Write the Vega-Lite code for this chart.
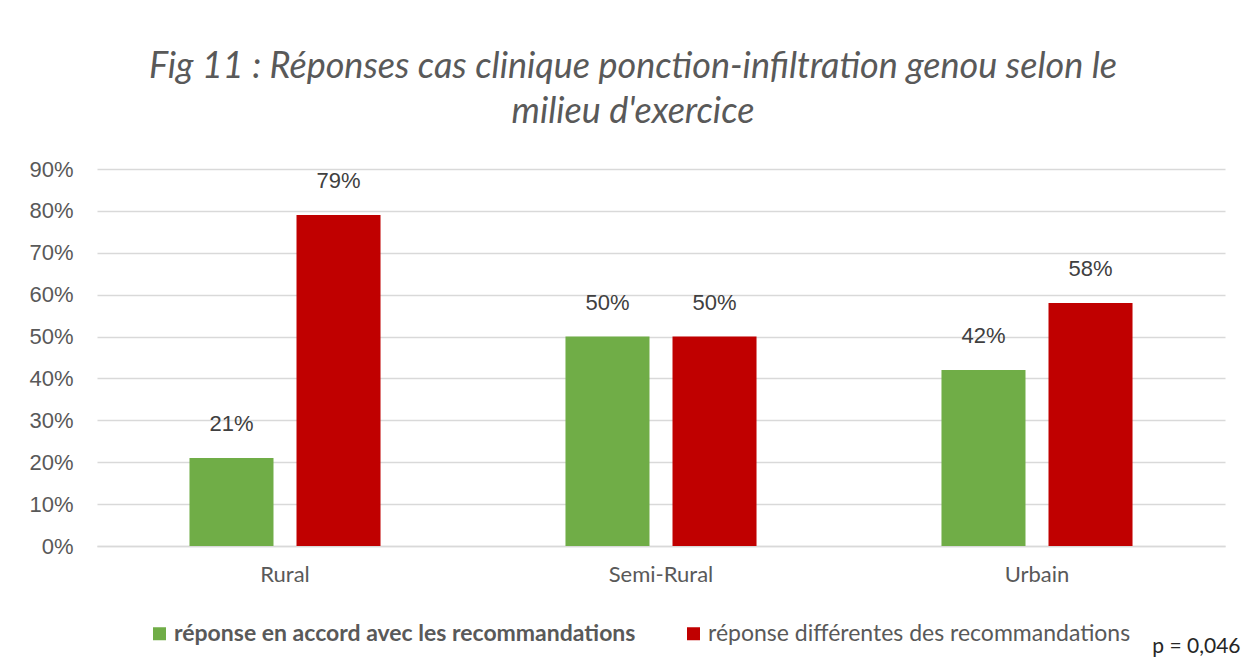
{
  "$schema": "https://vega.github.io/schema/vega-lite/v6.json",
  "width": 1128,
  "height": 377,
  "autosize": {"type": "none"},
  "padding": {"left": 97, "top": 169, "right": 31, "bottom": 122},
  "background": "white",
  "config": {"view": {"stroke": null}},
  "title": {
    "text": ["Fig 11 : Réponses cas clinique ponction-infiltration genou selon le", "milieu d'exercice"],
    "font": "Lato",
    "fontSize": 36,
    "fontStyle": "italic",
    "fontWeight": "normal",
    "color": "#595959",
    "lineHeight": 45,
    "anchor": "middle",
    "baseline": "middle",
    "dx": -28,
    "offset": 10
  },
  "data": {
    "values": [
      {"milieu": "Rural", "reponse": "réponse en accord avec les recommandations", "pct": 0.21},
      {"milieu": "Rural", "reponse": "réponse différentes des recommandations", "pct": 0.79},
      {"milieu": "Semi-Rural", "reponse": "réponse en accord avec les recommandations", "pct": 0.50},
      {"milieu": "Semi-Rural", "reponse": "réponse différentes des recommandations", "pct": 0.50},
      {"milieu": "Urbain", "reponse": "réponse en accord avec les recommandations", "pct": 0.42},
      {"milieu": "Urbain", "reponse": "réponse différentes des recommandations", "pct": 0.58}
    ]
  },
  "encoding": {
    "x": {
      "field": "milieu", "type": "nominal", "sort": null,
      "scale": {"paddingInner": 0, "paddingOuter": 0},
      "axis": {
        "title": "p = 0,046",
        "titleFont": "Lato", "titleFontSize": 21, "titleFontWeight": "normal", "titleColor": "#262626",
        "titleAnchor": null, "titleAlign": "right", "titleBaseline": "middle",
        "titleX": 1143, "titleY": 100,
        "labelAngle": 0, "labelFont": "Lato", "labelFontSize": 22, "labelColor": "#595959",
        "labelPadding": 18, "ticks": false, "domain": true, "domainColor": "#d9d9d9", "domainWidth": 1.5
      }
    },
    "xOffset": {
      "field": "reponse", "type": "nominal", "sort": null,
      "scale": {"paddingInner": 0.215, "paddingOuter": 0.864}
    },
    "y": {
      "field": "pct", "type": "quantitative",
      "scale": {"domain": [0, 0.9]},
      "axis": {
        "title": null, "format": ".0%", "values": [0, 0.1, 0.2, 0.3, 0.4, 0.5, 0.6, 0.7, 0.8, 0.9],
        "labelFont": "Liberation Sans", "labelFontSize": 22, "labelColor": "#595959",
        "labelPadding": 24, "ticks": false, "domain": false,
        "grid": true, "gridColor": "#d9d9d9", "gridWidth": 1.5
      }
    }
  },
  "layer": [
    {
      "mark": {"type": "bar"},
      "encoding": {
        "color": {
          "field": "reponse", "type": "nominal", "sort": null,
          "scale": {"range": ["#70AD47", "#C00000"]},
          "legend": {
            "title": null, "orient": "none", "direction": "horizontal",
            "legendX": 51, "legendY": 453,
            "symbolType": "square", "symbolSize": 169, "symbolStrokeWidth": 0,
            "labelFont": "Lato", "labelFontSize": 23, "labelColor": "#595959",
            "labelOffset": 3, "columnPadding": 46, "labelLimit": 700,
            "encode": {
              "labels": {
                "update": {
                  "fontWeight": {"signal": "datum.value === 'réponse en accord avec les recommandations' ? 'bold' : 'normal'"}
                }
              }
            }
          }
        }
      }
    },
    {
      "mark": {"type": "text", "baseline": "bottom", "dy": -22, "font": "Liberation Sans", "fontSize": 22, "color": "#404040"},
      "encoding": {
        "text": {"field": "pct", "type": "quantitative", "format": ".0%"}
      }
    }
  ]
}
